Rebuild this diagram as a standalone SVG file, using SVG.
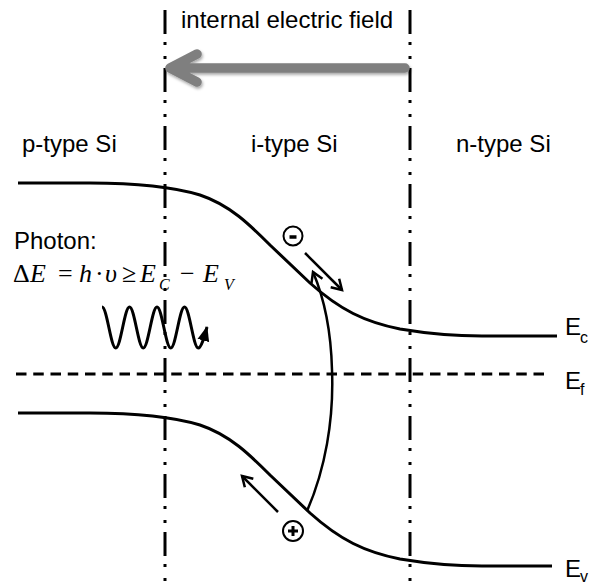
<svg xmlns="http://www.w3.org/2000/svg" width="589" height="586" viewBox="0 0 589 586">
<style>
.lbl{font-family:"Liberation Sans",Arial,sans-serif;font-size:24px;fill:#000}
.sub{font-family:"Liberation Sans",Arial,sans-serif;font-size:16px;fill:#000}
.math{font-family:"Liberation Serif","Times New Roman",serif;font-size:26px;fill:#000}
.it{font-style:italic}
.msub{font-family:"Liberation Serif","Times New Roman",serif;font-size:16px;font-style:italic;fill:#000}
.band{fill:none;stroke:#000;stroke-width:3}
.dd{fill:none;stroke:#000;stroke-width:3;stroke-dasharray:24 8 3 11 3 9}
.thin{fill:none;stroke:#000;stroke-width:2.5}
</style>
<defs>
<marker id="open" markerUnits="userSpaceOnUse" markerWidth="16" markerHeight="16" viewBox="0 0 16 16" refX="13" refY="8" orient="auto">
<path d="M3,2 L13,8 L3,14" fill="none" stroke="#000" stroke-width="2.5"/>
</marker>
<marker id="solid" markerUnits="userSpaceOnUse" markerWidth="16" markerHeight="16" viewBox="0 0 16 16" refX="14" refY="8" orient="auto">
<path d="M0,2 L15,8 L0,14 Z" fill="#000"/>
</marker>
<filter id="sh" x="-10%" y="-50%" width="120%" height="200%">
<feDropShadow dx="1" dy="2" stdDeviation="1.5" flood-color="#000" flood-opacity="0.35"/>
</filter>
</defs>

<g id="boundaries">
<line class="dd" x1="165" y1="10" x2="165" y2="586"/>
<line class="dd" x1="410" y1="10" x2="410" y2="586"/>
</g>

<g id="field-label"><text class="lbl" x="181" y="28">internal electric field</text></g>
<g id="field-arrow" filter="url(#sh)">
<path d="M405,68 L172,68 M197,54 L170,68 L197,82" fill="none" stroke="#7f7f7f" stroke-width="9.5" stroke-linecap="round" stroke-linejoin="round"/>
</g>

<g id="p-region"><text class="lbl" x="22" y="152">p-type Si</text></g>
<g id="i-region"><text class="lbl" x="251" y="152">i-type Si</text></g>
<g id="n-region"><text class="lbl" x="456" y="152">n-type Si</text></g>

<g id="Ec">
<path class="band" d="M18,183 L90,183 C130,183 170,186 200,195 C230,205 250,225 270,245 L310,283 C340,310 365,322 400,329 C430,334 460,336 482,336 L557,336"/>
<text class="lbl" x="565" y="335">E<tspan class="sub" x="580" y="343">c</tspan></text>
</g>
<g id="Ef">
<line x1="16" y1="374" x2="550" y2="374" stroke="#000" stroke-width="3" stroke-dasharray="10.5 6.75"/>
<text class="lbl" x="565" y="389">E<tspan class="sub" x="580" y="395">f</tspan></text>
</g>
<g id="Ev">
<path class="band" d="M18,413 L90,413 C130,413 170,416 200,425 C230,435 250,455 270,475 L310,513 C340,540 365,552 400,559 C430,564 460,566 482,566 L552,566"/>
<text class="lbl" x="565" y="577">E<tspan class="sub" x="580" y="582">v</tspan></text>
</g>

<g id="photon-label">
<text class="lbl" x="14" y="249">Photon:</text>
<text class="math" y="282"><tspan x="13">Δ</tspan><tspan class="it" x="30">E</tspan><tspan x="58">=</tspan><tspan class="it" x="79">h</tspan><tspan x="95">·</tspan><tspan class="it" x="105">υ</tspan><tspan x="122">≥</tspan><tspan class="it" x="140">E</tspan><tspan class="msub" x="159" y="290">C</tspan><tspan x="180" y="282">−</tspan><tspan class="it" x="203">E</tspan><tspan class="msub" x="224" y="290">V</tspan></text>
</g>

<g id="photon-wave">
<path fill="none" stroke="#000" stroke-width="3" marker-end="url(#solid)" d="M102,307 C107,307 110.75,348 115.75,348 S124.5,307 129.5,307 S138.25,348 143.25,348 S152,307 157,307 S165.75,348 170.75,348 S179.5,307 184.5,307 S193.25,348 198.25,348 C201,348 204,338 207,327"/>
</g>

<g id="electron">
<circle cx="293" cy="236" r="9.5" fill="none" stroke="#000" stroke-width="2"/>
<line x1="289.5" y1="237" x2="296.5" y2="237" stroke="#000" stroke-width="3.5"/>
</g>
<g id="hole">
<circle cx="293" cy="531" r="10" fill="none" stroke="#000" stroke-width="2"/>
<path d="M288,531 H298 M293,526 V536" stroke="#000" stroke-width="3"/>
</g>

<g id="connectors">
<path class="thin" marker-end="url(#open)" d="M307,511 C325,470 334,420 332,370 C331,330 325,300 313,272"/>
<line class="thin" marker-end="url(#open)" x1="305" y1="253" x2="342" y2="290"/>
<line class="thin" marker-end="url(#open)" x1="278" y1="512" x2="242" y2="476"/>
</g>
</svg>
